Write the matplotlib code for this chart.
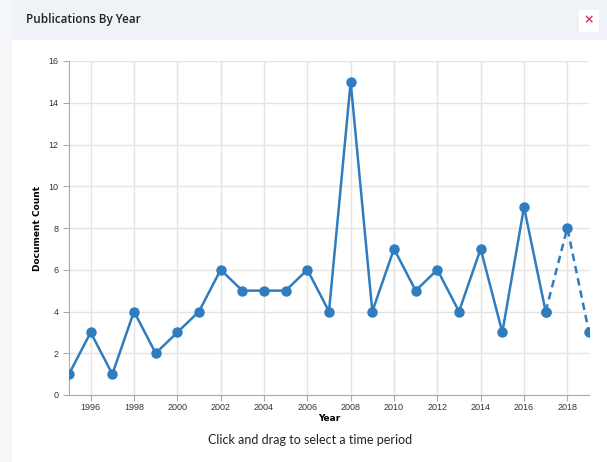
import matplotlib
matplotlib.use('Agg')
from matplotlib import pyplot as plt
from matplotlib.patches import Rectangle

years = [1995, 1996, 1997, 1998, 1999, 2000, 2001, 2002, 2003, 2004, 2005, 2006,
         2007, 2008, 2009, 2010, 2011, 2012, 2013, 2014, 2015, 2016, 2017]
counts = [1, 3, 1, 4, 2, 3, 4, 6, 5, 5, 5, 6, 4, 15, 4, 7, 5, 6, 4, 7, 3, 9, 4]
# last complete year followed by the projected (dashed) years
proj_years = [2017, 2018, 2019]
proj_counts = [4, 8, 3]

line_color = '#2f7dbf'

fig = plt.figure(figsize=(6.07, 4.62), dpi=100)
fig.patch.set_facecolor('white')

# card header and left border
fig.patches.append(Rectangle((0, 422/462), 1, 40/462, transform=fig.transFigure,
                             facecolor='#eff2f7', edgecolor='none', zorder=0))
fig.patches.append(Rectangle((0, 0), 12/607, 1, transform=fig.transFigure,
                             facecolor='#f5f6f8', edgecolor='none', zorder=0))
fig.patches.append(Rectangle((579/607, 430/462), 20/607, 22/462, transform=fig.transFigure,
                             facecolor='white', edgecolor='none', zorder=1))
fig.text(26/607, 1 - 20/462, 'Publications By Year', fontsize=8.5, family='Open Sans',
         fontweight='semibold', color='#222222', va='center', ha='left')
fig.text(589/607, 1 - 20/462, '×', fontsize=9, fontweight='bold', color='#d6336c',
         va='center', ha='center')

ax = fig.add_axes([69/607, 1 - 395/462, 520/607, 334/462])
ax.set_facecolor('white')
ax.plot(years, counts, color=line_color, linewidth=1.8, marker='o', markersize=6.5, zorder=3)
ax.plot(proj_years, proj_counts, color=line_color, linewidth=1.8, linestyle=(0, (3, 2)),
        marker='o', markersize=6.5, zorder=3)

ax.set_xlim(1995, 2019)
ax.set_ylim(0, 16)
ax.set_xticks(range(1996, 2019, 2))
ax.set_yticks(range(0, 17, 2))
ax.grid(True, color='#e4e4e4', linewidth=1)
ax.set_axisbelow(True)
for s in ['top', 'right']:
    ax.spines[s].set_visible(False)
for s in ['left', 'bottom']:
    ax.spines[s].set_color('#aaaaaa')
    ax.spines[s].set_linewidth(0.8)
ax.tick_params(axis='both', labelsize=6.5, colors='#333333', length=4, width=0.8)
ax.tick_params(axis='x', pad=2)
ax.tick_params(axis='both', color='#aaaaaa')
for lab in ax.get_xticklabels() + ax.get_yticklabels():
    lab.set_family('Liberation Sans')
ax.set_xlabel('Year', fontsize=6.5, fontweight='bold', labelpad=1)
ax.set_ylabel('Document Count', fontsize=6.5, fontweight='bold', labelpad=5)

fig.text(310/607, 1 - 440/462, 'Click and drag to select a time period', fontsize=9,
         family='Lato', color='#222222', ha='center', va='center')

plt.savefig('out.png', dpi=100)
